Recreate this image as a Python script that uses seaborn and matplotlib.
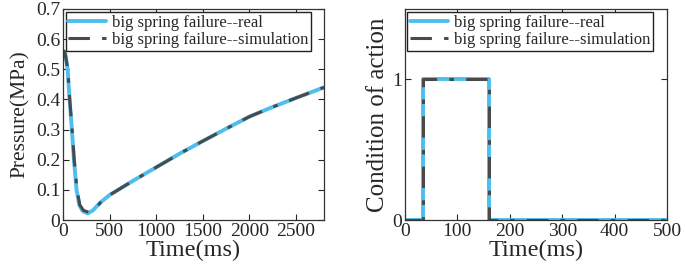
import seaborn as sns
import matplotlib.pyplot as plt
import pandas as pd

# Pressure curve (left panel)
t_real = [0, 10, 25, 50, 70, 95, 117, 145, 175, 210, 265, 320, 400, 500, 750,
          1000, 1250, 1500, 1750, 2000, 2250, 2500, 2800]
p_real = [0.54, 0.56, 0.55, 0.50, 0.40, 0.30, 0.20, 0.10, 0.05, 0.03, 0.022, 0.032,
          0.058, 0.083, 0.13, 0.175, 0.22, 0.262, 0.303, 0.343, 0.375, 0.405, 0.44]
t_sim = [0, 10, 25, 50, 72, 98, 120, 150, 180, 220, 275, 330, 410, 500, 750,
         1000, 1250, 1500, 1750, 2000, 2250, 2500, 2800]
p_sim = [0.54, 0.56, 0.55, 0.50, 0.40, 0.30, 0.20, 0.10, 0.05, 0.032, 0.026, 0.035,
         0.06, 0.083, 0.13, 0.175, 0.22, 0.262, 0.303, 0.343, 0.375, 0.405, 0.44]

# Action signal (right panel)
t_act = [0, 35, 160, 500]
v_act = [0, 1, 0, 0]

df_real = pd.DataFrame({'t': t_real, 'p': p_real})
df_sim = pd.DataFrame({'t': t_sim, 'p': p_sim})
df_act = pd.DataFrame({'t': t_act, 'v': v_act})

sns.set_style("ticks")
plt.rcParams['font.family'] = ['Liberation Serif', 'DejaVu Serif']
plt.rcParams['xtick.direction'] = 'in'
plt.rcParams['ytick.direction'] = 'in'

blue = '#4DBEEE'
dark = '#4a4a4a'
dashdot = (0, (7, 4, 1.5, 4))

fig = plt.figure(figsize=(6.85, 2.72), dpi=100)
ax1 = fig.add_axes([0.092, 0.191, 0.381, 0.776])
ax2 = fig.add_axes([0.591, 0.191, 0.383, 0.776])

sns.lineplot(data=df_real, x='t', y='p', ax=ax1, color=blue, lw=2.8,
             estimator=None, sort=False, label='big spring failure--real')
sns.lineplot(data=df_sim, x='t', y='p', ax=ax1, color=dark, lw=2.2,
             estimator=None, sort=False, linestyle=dashdot,
             label='big spring failure--simulation')
ax1.set_xlim(0, 2800)
ax1.set_ylim(0, 0.7)
ax1.set_xticks([0, 500, 1000, 1500, 2000, 2500])
ax1.set_yticks([0, 0.1, 0.2, 0.3, 0.4, 0.5, 0.6, 0.7])
ax1.set_yticklabels(['0', '0.1', '0.2', '0.3', '0.4', '0.5', '0.6', '0.7'])
ax1.set_xlabel('Time(ms)', fontsize=17.5, labelpad=0)
ax1.set_ylabel('Pressure(MPa)', fontsize=15.5, labelpad=4)

sns.lineplot(data=df_act, x='t', y='v', ax=ax2, color=blue, lw=2.8,
             estimator=None, drawstyle='steps-post', label='big spring failure--real')
sns.lineplot(data=df_act, x='t', y='v', ax=ax2, color=dark, lw=2.2,
             estimator=None, drawstyle='steps-post', linestyle=dashdot,
             label='big spring failure--simulation')
ax2.set_xlim(0, 500)
ax2.set_ylim(0, 1.5)
ax2.set_xticks([0, 100, 200, 300, 400, 500])
ax2.set_yticks([0, 1])
ax2.set_xlabel('Time(ms)', fontsize=17.5, labelpad=0)
ax2.set_ylabel('Condition of action', fontsize=18, labelpad=2)

for ax in (ax1, ax2):
    ax.tick_params(labelsize=14, top=True, right=True, length=4, width=0.8, pad=2)
    for s in ax.spines.values():
        s.set_visible(True)
        s.set_color('#333333')
        s.set_linewidth(0.9)
    leg = ax.legend(loc='upper left', bbox_to_anchor=(0.01, 0.985), fontsize=12,
                    frameon=True, fancybox=False, framealpha=1, edgecolor='#222222',
                    handlelength=2.3, borderpad=0.15, labelspacing=0.1,
                    handletextpad=0.35, borderaxespad=0)
    leg.get_frame().set_linewidth(1.0)

fig.savefig('out.png', dpi=100)
